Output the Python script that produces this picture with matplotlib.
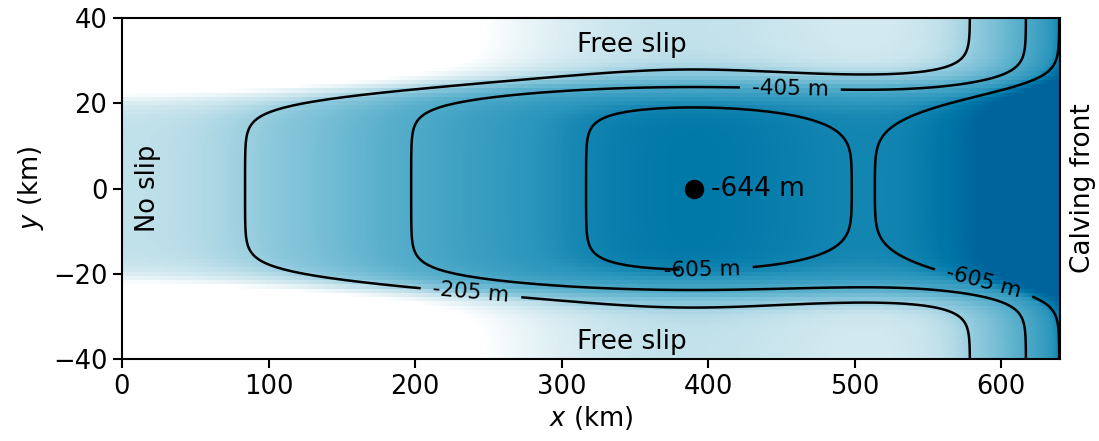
import numpy as np
import matplotlib.pyplot as plt
from matplotlib.colors import LinearSegmentedColormap

# MISMIP+ bed topography parameters (m, km)
bx_coeffs = [-150.0, -728.8, 343.91, -50.57]   # B0, B2, B4, B6
x_bar = 300.0
fc, dc, wc = 4.0, 500.0, 24.0
bed_floor = -720.0
x_extent = [0.0, 640.0]
y_extent = [-40.0, 40.0]

contour_levels = [-605, -405, -205]
label_positions = [(238, -25), (456, 23), (396, -19), (588, -22)]
deepest_point = (390, 0)
deepest_label = "-644 m"

# colour anchors (fraction of depth 0 -> -720 m)
cmap_positions = [0.0, 0.208, 0.315, 0.5, 0.774, 0.894, 1.0]
cmap_colors = ["#ffffff", "#c0e0ea", "#8cc8dc", "#5ab0cc", "#2a95bc", "#0078a8", "#00649c"]

x = np.arange(x_extent[0], x_extent[1] + 0.25, 0.5)
y = np.arange(y_extent[0], y_extent[1] + 0.25, 0.5)
X, Y = np.meshgrid(x, y)

xs = X / x_bar
Bx = bx_coeffs[0] + bx_coeffs[1] * xs**2 + bx_coeffs[2] * xs**4 + bx_coeffs[3] * xs**6
By = dc / (1 + np.exp(-2 * (Y - wc) / fc)) + dc / (1 + np.exp(2 * (Y + wc) / fc))
bed = np.maximum(Bx + By, bed_floor)

# low values (deep) -> dark, 0 m and above -> white
cmap = LinearSegmentedColormap.from_list(
    "bed", list(zip([1 - p for p in cmap_positions][::-1], cmap_colors[::-1])))

fig = plt.figure(figsize=(10.99, 4.41), dpi=100)
ax = fig.add_axes([0.111, 0.186, 0.8535, 0.773])

# coarse 1 km cells for the shading, like the banded original
ax.pcolormesh(X[::2, ::2], Y[::2, ::2], bed[::2, ::2], cmap=cmap,
              vmin=bed_floor, vmax=0, shading="nearest")
cs = ax.contour(X, Y, bed, levels=contour_levels, colors="black",
                linewidths=1.8, linestyles="solid")
ax.clabel(cs, fmt="%d m", fontsize=15.5, manual=label_positions, inline=True, inline_spacing=12)

ax.plot(*deepest_point, "o", color="black", markersize=13)
ax.text(deepest_point[0] + 12, deepest_point[1], deepest_label, fontsize=19,
        va="center", ha="left")

ax.text(348, 33.8, "Free slip", fontsize=19, ha="center", va="center")
ax.text(348, -36.1, "Free slip", fontsize=19, ha="center", va="center")
ax.text(17.5, 0, "No slip", fontsize=18.5, ha="center", va="center", rotation=90)
ax.text(656, 0, "Calving front", fontsize=19, ha="center", va="center", rotation=90)

ax.set_xlim(x_extent)
ax.set_ylim(y_extent)
ax.set_xticks([0, 100, 200, 300, 400, 500, 600])
ax.set_yticks([-40, -20, 0, 20, 40])
ax.tick_params(labelsize=18.5, width=1.5, length=6.5, pad=4)
for s in ax.spines.values():
    s.set_linewidth(1.5)
ax.set_xlabel("$x$ (km)", fontsize=18.5, labelpad=3)
ax.set_ylabel("$y$ (km)", fontsize=18.5, labelpad=5)

fig.savefig("out.png", dpi=100)
